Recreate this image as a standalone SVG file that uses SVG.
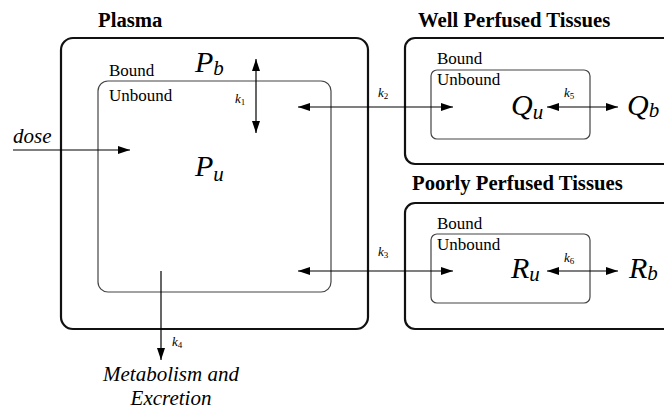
<svg xmlns="http://www.w3.org/2000/svg" width="664" height="410" viewBox="0 0 664 410" font-family="Liberation Serif, serif">
<defs>
<marker id="ah" markerUnits="userSpaceOnUse" markerWidth="13" markerHeight="9" refX="12" refY="4" orient="auto-start-reverse" viewBox="0 0 13 9">
<path d="M0,0 L12,4 L0,8 z" fill="#000"/>
</marker>
</defs>
<style>
svg g text, svg g text tspan, svg text, svg tspan { font-family: 'Liberation Serif', 'Times New Roman', serif !important; }
svg g text.title { font-weight: bold !important; font-size: 20.7px !important; }
svg g text.lbl { font-size: 17px !important; }
svg g text.it { font-style: italic !important; font-size: 21px !important; }
svg g text.math { font-style: italic !important; font-size: 30px !important; }
svg g text.math tspan { font-size: 21px !important; }
svg g text.k { font-style: italic !important; font-size: 13px !important; }
svg g text.k tspan { font-style: normal !important; font-size: 9px !important; }
.outer { fill: none; stroke: #111; stroke-width: 2.2; }
.inner { fill: none; stroke: #444; stroke-width: 1.2; }
.arr { fill: none; stroke: #000; stroke-width: 1.2; }
</style>
<rect width="664" height="410" fill="#fff"/>

<g id="plasma">
<text class="title" x="98" y="27">Plasma</text>
<rect class="outer" x="61" y="38" width="307" height="291" rx="12"/>
<rect class="inner" x="98" y="81" width="233" height="211" rx="10"/>
<text class="lbl" x="109" y="76">Bound</text>
<text class="lbl" x="109" y="101">Unbound</text>
<text class="math" x="195" y="72">P<tspan dy="3">b</tspan></text>
<text class="math" x="195" y="176">P<tspan dy="5">u</tspan></text>
</g>

<g id="well">
<text class="title" x="418" y="27">Well Perfused Tissues</text>
<rect class="outer" x="405" y="38" width="280" height="126" rx="10"/>
<rect class="inner" x="431" y="70" width="159" height="69" rx="6"/>
<text class="lbl" x="437" y="64">Bound</text>
<text class="lbl" x="437" y="85">Unbound</text>
<text class="math" x="511" y="115">Q<tspan dy="4">u</tspan></text>
<text class="math" x="627" y="115">Q<tspan dy="2">b</tspan></text>
</g>

<g id="poor">
<text class="title" x="412" y="190">Poorly Perfused Tissues</text>
<rect class="outer" x="405" y="203" width="280" height="126" rx="10"/>
<rect class="inner" x="431" y="234" width="159" height="69" rx="6"/>
<text class="lbl" x="437" y="229">Bound</text>
<text class="lbl" x="437" y="250">Unbound</text>
<text class="math" x="511" y="278">R<tspan dy="3">u</tspan></text>
<text class="math" x="629" y="278">R<tspan dy="2">b</tspan></text>
</g>

<g id="metabolism">
<text class="it" x="171" y="381" text-anchor="middle">Metabolism and</text>
<text class="it" x="171" y="405" text-anchor="middle">Excretion</text>
</g>

<g id="dose">
<text class="it" x="13" y="143">dose</text>
</g>

<g id="connectors">
<line class="arr" x1="13" y1="150" x2="130" y2="150" marker-end="url(#ah)"/>
<line class="arr" x1="256" y1="59" x2="256" y2="133" marker-start="url(#ah)" marker-end="url(#ah)"/>
<line class="arr" x1="298" y1="107" x2="453" y2="107" marker-start="url(#ah)" marker-end="url(#ah)"/>
<line class="arr" x1="298" y1="271" x2="453" y2="271" marker-start="url(#ah)" marker-end="url(#ah)"/>
<line class="arr" x1="161" y1="271" x2="161" y2="360" marker-end="url(#ah)"/>
<line class="arr" x1="547" y1="107" x2="618" y2="107" marker-start="url(#ah)" marker-end="url(#ah)"/>
<line class="arr" x1="547" y1="271" x2="618" y2="271" marker-start="url(#ah)" marker-end="url(#ah)"/>
<text class="k" x="235" y="103">k<tspan dy="2">1</tspan></text>
<text class="k" x="378" y="97">k<tspan dy="2">2</tspan></text>
<text class="k" x="378" y="256">k<tspan dy="2">3</tspan></text>
<text class="k" x="172" y="346">k<tspan dy="2">4</tspan></text>
<text class="k" x="564" y="97">k<tspan dy="2">5</tspan></text>
<text class="k" x="564" y="262">k<tspan dy="2">6</tspan></text>
</g>
</svg>
